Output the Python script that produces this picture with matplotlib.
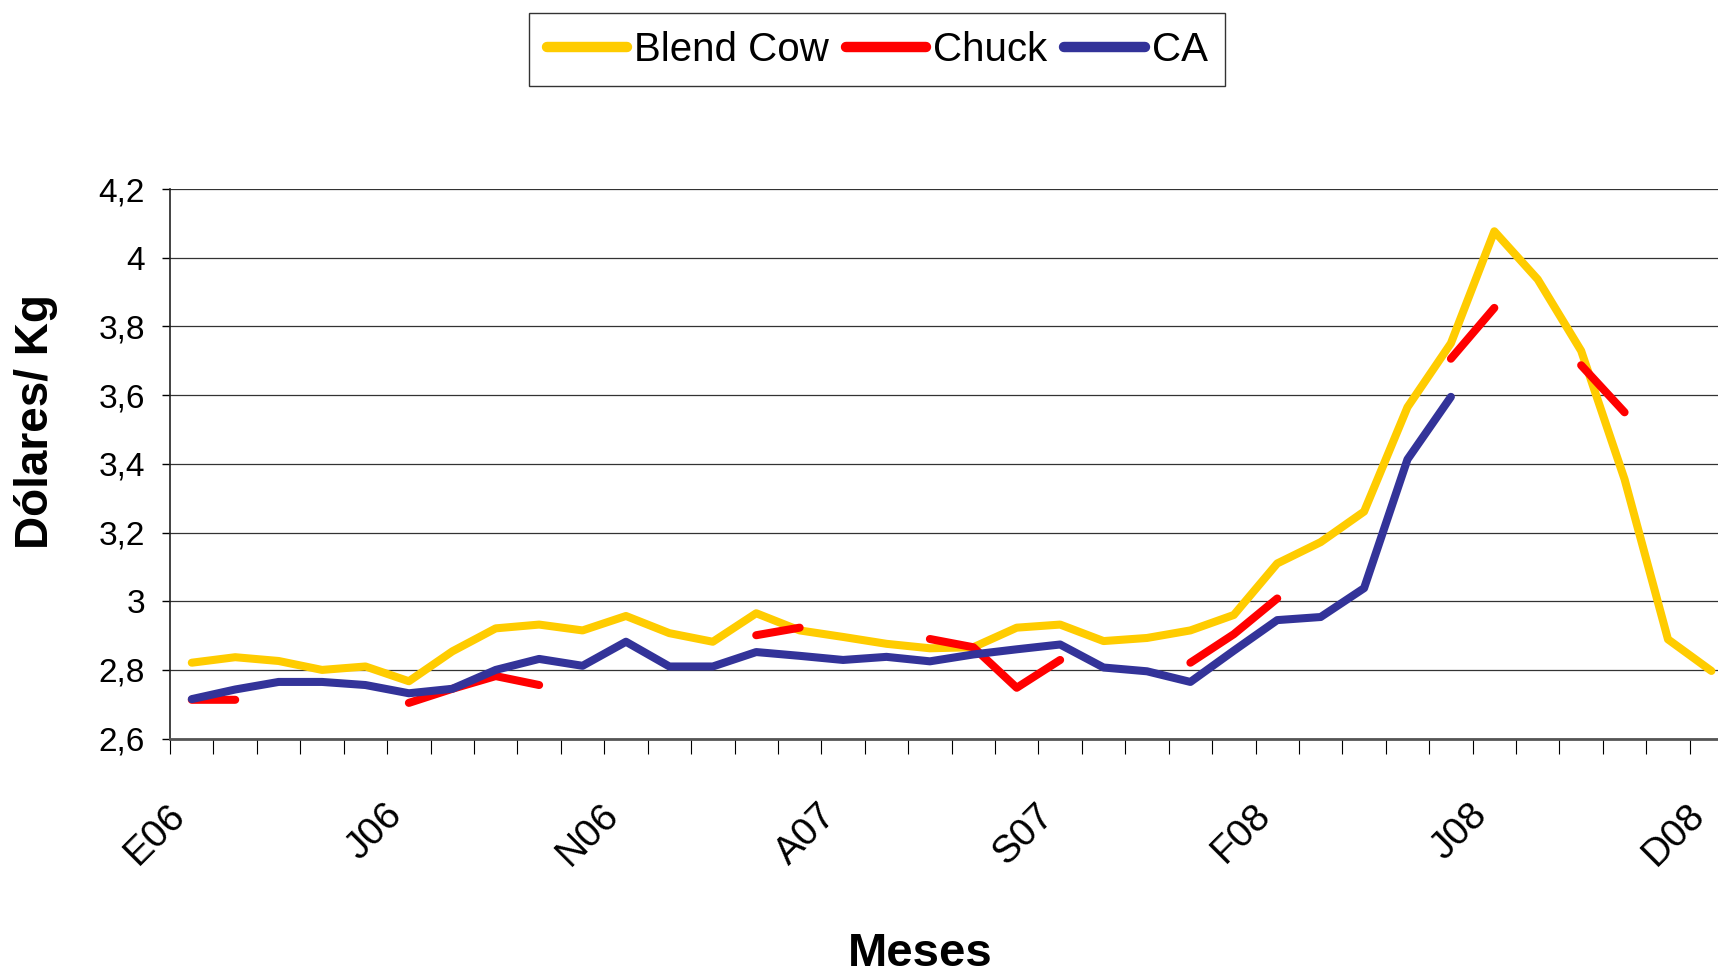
import numpy as np
import matplotlib
matplotlib.use('Agg')
import matplotlib.pyplot as plt
import matplotlib.transforms as mtransforms

plt.rcParams['font.family'] = ['Liberation Sans', 'DejaVu Sans']

nan = np.nan

# months Jan 2006 .. Dec 2008 (spanish initials)
meses = ['E06', 'F06', 'M06', 'A06', 'M06', 'J06', 'J06', 'A06', 'S06', 'O06', 'N06', 'D06',
         'E07', 'F07', 'M07', 'A07', 'M07', 'J07', 'J07', 'A07', 'S07', 'O07', 'N07', 'D07',
         'E08', 'F08', 'M08', 'A08', 'M08', 'J08', 'J08', 'A08', 'S08', 'O08', 'N08', 'D08']

blend_cow = [2.821, 2.837, 2.826, 2.800, 2.810, 2.767, 2.854, 2.921, 2.932, 2.915,
             2.957, 2.907, 2.882, 2.965, 2.915, 2.896, 2.876, 2.863, 2.866, 2.923,
             2.932, 2.884, 2.893, 2.915, 2.960, 3.110, 3.172, 3.261, 3.565, 3.751,
             4.077, 3.937, 3.729, 3.355, 2.889, 2.797]

chuck = [2.713, 2.713, nan, nan, nan, 2.704, 2.745, 2.782, 2.756, nan,
         nan, nan, nan, 2.901, 2.923, nan, nan, 2.890, 2.866, 2.748,
         2.829, nan, nan, 2.821, 2.904, 3.008, nan, nan, nan, 3.706,
         3.854, nan, 3.687, 3.550, nan, nan]

ca = [2.715, 2.743, 2.765, 2.765, 2.756, 2.732, 2.745, 2.800, 2.832, 2.812,
      2.882, 2.810, 2.810, 2.852, 2.841, 2.829, 2.838, 2.825, 2.845, 2.860,
      2.874, 2.807, 2.796, 2.765, 2.856, 2.945, 2.954, 3.038, 3.413, 3.595,
      nan, nan, nan, nan, nan, nan]

yticks = [2.6, 2.8, 3.0, 3.2, 3.4, 3.6, 3.8, 4.0, 4.2]
ytick_labels = ['2,6', '2,8', '3', '3,2', '3,4', '3,6', '3,8', '4', '4,2']

x = np.arange(len(meses))

fig = plt.figure(figsize=(17.18, 9.77), dpi=100)
# plot area runs past the right edge of the picture, as in the original
ax = fig.add_axes([0.0990, 0.2440, 0.9098, 0.5625])

lw = 5.8
ax.plot(x, blend_cow, color='#FFCC00', lw=lw, solid_capstyle='round',
        solid_joinstyle='round', label='Blend Cow', zorder=3)
ax.plot(x, chuck, color='#FF0000', lw=lw, solid_capstyle='round',
        solid_joinstyle='round', label='Chuck', zorder=4)
ax.plot(x, ca, color='#333399', lw=lw, solid_capstyle='round',
        solid_joinstyle='round', label='CA', zorder=5)

ax.set_xlim(-0.5, len(meses) - 0.5)
ax.set_ylim(2.6, 4.2)

ax.set_yticks(yticks)
ax.set_yticklabels(ytick_labels)
ax.tick_params(axis='y', direction='out', length=6.1, width=1, pad=12,
               labelsize=24, color='black')
ax.yaxis.grid(True, color='#333333', lw=0.9)
ax.set_axisbelow(True)

# tick marks between months, labels every 5 months
ax.set_xticks(np.arange(-0.5, len(meses), 1))
ax.set_xticklabels([])
ax.set_xticks(x[::5], minor=True)
ax.set_xticklabels([meses[i] for i in x[::5]], minor=True)
ax.tick_params(axis='x', which='major', direction='out', length=11, width=0.8,
               color='black')
ax.tick_params(axis='x', which='minor', length=0, pad=42, labelsize=28)
offset = mtransforms.ScaledTranslation(-25 / 100, 0, fig.dpi_scale_trans)
for lab in ax.get_xticklabels(minor=True):
    lab.set_rotation(45)
    lab.set_ha('right')
    lab.set_va('top')
    lab.set_rotation_mode('anchor')
    lab.set_transform(lab.get_transform() + offset)

ax.spines['top'].set_visible(False)
ax.spines['right'].set_visible(False)
ax.spines['left'].set_color('#222222')
ax.spines['left'].set_linewidth(1.2)
ax.spines['bottom'].set_color('#555555')
ax.spines['bottom'].set_linewidth(2.0)

fig.text(0.0207, 0.569, 'Dólares/ Kg', rotation=90, ha='center', va='center',
         fontsize=33, fontweight='bold')
fig.text(0.5355, 0.001, 'Meses', ha='center', va='bottom',
         fontsize=34, fontweight='bold')

handles, labels = ax.get_legend_handles_labels()
leg = fig.legend(handles, labels, loc='upper center', bbox_to_anchor=(0.5105, 0.9864),
                 ncol=3, frameon=True, fancybox=False, edgecolor='black',
                 handlelength=2.0, handletextpad=0.17, columnspacing=0.42,
                 borderpad=0.43, borderaxespad=0, fontsize=29)
leg.get_frame().set_linewidth(1.0)
for h in leg.get_lines():
    h.set_linewidth(7.5)
    h.set_solid_capstyle('round')

fig.savefig('out.png', dpi=100)
